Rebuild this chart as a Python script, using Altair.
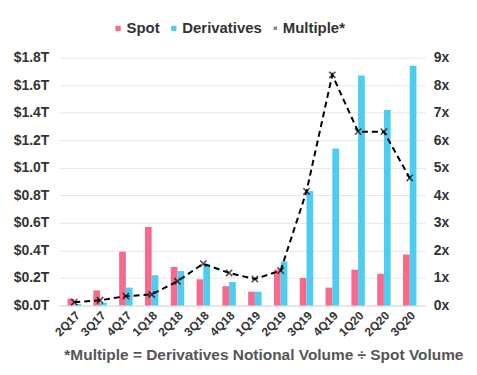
import altair as alt
import pandas as pd

quarters = ["2Q17", "3Q17", "4Q17", "1Q18", "2Q18", "3Q18", "4Q18",
            "1Q19", "2Q19", "3Q19", "4Q19", "1Q20", "2Q20", "3Q20"]
spot = [0.05, 0.11, 0.39, 0.57, 0.28, 0.19, 0.14, 0.10, 0.26, 0.20, 0.13, 0.26, 0.23, 0.37]
derivatives = [0.01, 0.02, 0.13, 0.22, 0.25, 0.30, 0.17, 0.10, 0.32, 0.83, 1.14, 1.67, 1.42, 1.74]
multiple = [0.12, 0.19, 0.34, 0.40, 0.88, 1.52, 1.18, 0.96, 1.27, 4.14, 8.37, 6.31, 6.31, 4.63]

PINK = "#F8698C"
BLUE = "#4DCDF2"
FONT = "Liberation Sans"
XPATH = "M-1,-1L1,1M-1,1L1,-1"

bars_df = pd.DataFrame(
    [{"quarter": q, "series": "Spot", "value": v} for q, v in zip(quarters, spot)]
    + [{"quarter": q, "series": "Derivatives", "value": v} for q, v in zip(quarters, derivatives)]
)
line_df = pd.DataFrame({"quarter": quarters, "multiple": multiple, "series": ["Multiple*"] * len(quarters)})

x_enc = alt.X(
    "quarter:N", sort=quarters,
    scale=alt.Scale(paddingInner=0.48, paddingOuter=0.34),
    axis=alt.Axis(title=None, labelAngle=-45, ticks=False, domainColor="#d9d9d9",
                  labelFontSize=12, labelFontWeight="bold", labelColor="#333333",
                  labelFont=FONT, labelPadding=4),
)

bars = alt.Chart(bars_df).mark_bar().encode(
    x=x_enc,
    xOffset=alt.XOffset("series:N", sort=["Spot", "Derivatives"]),
    y=alt.Y("value:Q", scale=alt.Scale(domain=[0, 1.8]),
            axis=alt.Axis(title=None, values=[0, 0.2, 0.4, 0.6, 0.8, 1.0, 1.2, 1.4, 1.6, 1.8],
                          labelExpr="'$' + format(datum.value, '.1f') + 'T'",
                          domain=False, ticks=False, gridColor="#e6e6e6",
                          labelFontSize=14, labelFontWeight="bold", labelColor="#333333",
                          labelFont=FONT, labelPadding=10)),
    color=alt.Color("series:N",
                    scale=alt.Scale(domain=["Spot", "Derivatives"], range=[PINK, BLUE]),
                    legend=alt.Legend(orient="none", legendX=52, legendY=-37, direction="horizontal",
                                      title=None, symbolType="square", padding=0,
                                      symbolSize=28, labelOffset=1, labelFontSize=15,
                                      labelFontWeight="bold",
                                      labelColor="#333333", labelFont=FONT, columnPadding=6)),
)

y2 = alt.Y("multiple:Q", scale=alt.Scale(domain=[0, 9]),
           axis=alt.Axis(title=None, orient="right", values=list(range(10)),
                         labelExpr="datum.value + 'x'", grid=False, domain=False, ticks=False,
                         labelFontSize=14, labelFontWeight="bold", labelColor="#333333",
                         labelFont=FONT, labelPadding=8))

line = alt.Chart(line_df).mark_line(color="black", strokeDash=[6, 4], strokeWidth=2).encode(
    x=alt.X("quarter:N", sort=quarters), y=y2)

points = alt.Chart(line_df).mark_point(filled=False, color="black", strokeWidth=1.5, size=40).encode(
    x=alt.X("quarter:N", sort=quarters), y=y2,
    shape=alt.Shape("series:N", scale=alt.Scale(domain=["Multiple*"], range=[XPATH]),
                    legend=alt.Legend(orient="none", legendX=210, legendY=-37, padding=0,
                                      title=None, symbolSize=10, labelOffset=0,
                                      symbolStrokeColor="#333333", symbolStrokeWidth=1.2,
                                      labelFontSize=15, labelFontWeight="bold",
                                      labelColor="#333333", labelFont=FONT)),
)

chart = alt.layer(bars, line + points).resolve_scale(y="independent").properties(
    width=368, height=249,
    padding={"left": 5, "top": 12, "right": 5, "bottom": 5},
    title=alt.TitleParams("*Multiple = Derivatives Notional Volume ÷ Spot Volume",
                          orient="bottom", fontSize=15.5, fontWeight="bold", color="#555555",
                          font=FONT, offset=10, anchor="middle", dx=22),
).configure_view(stroke=None)

chart.save("out.html", embed_options={"renderer": "svg", "actions": False})
